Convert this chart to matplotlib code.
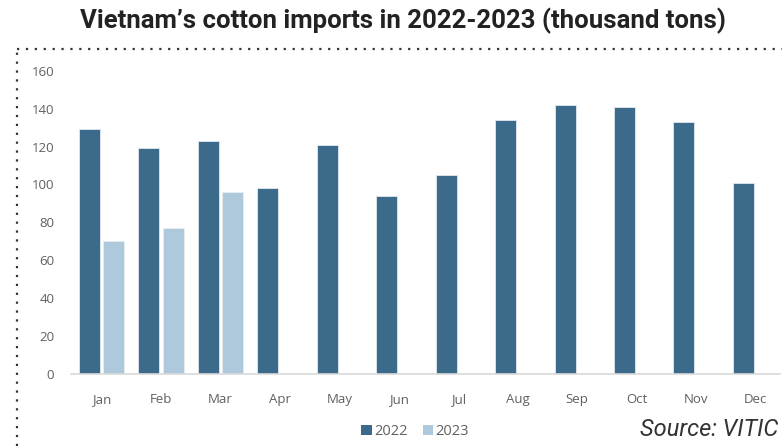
import numpy as np
import matplotlib
matplotlib.use('Agg')
import matplotlib.pyplot as plt
from matplotlib.lines import Line2D
from matplotlib.patches import Patch

MONTHS = ['Jan', 'Feb', 'Mar', 'Apr', 'May', 'Jun',
          'Jul', 'Aug', 'Sep', 'Oct', 'Nov', 'Dec']
IMPORTS_2022 = [129, 119, 123, 98, 121, 94, 105, 134, 142, 141, 133, 101]
IMPORTS_2023 = [70, 77, 96, np.nan, np.nan, np.nan,
                np.nan, np.nan, np.nan, np.nan, np.nan, np.nan]
Y_TICKS = [0, 20, 40, 60, 80, 100, 120, 140, 160]

COLOR_2022 = '#3b6a8b'
COLOR_2023 = '#aec9dc'
LABEL_GRAY = '#606060'

BAR_WIDTH = 0.353
OFFSET = 0.205


def main():
    fig = plt.figure(figsize=(7.82, 4.46), dpi=100)
    ax = fig.add_axes([0.0908, 0.1614, 0.9066, 0.680])

    x = np.arange(len(MONTHS))
    ax.bar(x - OFFSET, IMPORTS_2022, BAR_WIDTH, color=COLOR_2022,
           edgecolor='#d8e2ea', linewidth=0.7)
    ax.bar(x + OFFSET, IMPORTS_2023, BAR_WIDTH, color=COLOR_2023,
           edgecolor='#e4ecf2', linewidth=0.7)

    ax.set_xlim(-0.516, 11.41)
    ax.set_ylim(0, 160)
    ax.set_yticks(Y_TICKS)
    ax.set_xticks(x)
    ax.set_xticklabels(MONTHS)
    ax.tick_params(axis='both', length=0, labelsize=9.5, labelcolor=LABEL_GRAY)
    ax.tick_params(axis='x', pad=14)
    ax.tick_params(axis='y', pad=12)
    for lbl in ax.get_xticklabels() + ax.get_yticklabels():
        lbl.set_family('Open Sans')

    for side in ('top', 'right', 'left'):
        ax.spines[side].set_visible(False)
    ax.spines['bottom'].set_color('#d9d9d9')
    ax.spines['bottom'].set_linewidth(1.2)

    fig.text(0.515, 0.953, 'Vietnam\u2019s cotton imports in 2022-2023 (thousand tons)',
             ha='center', va='center', fontsize=18.5, fontweight='bold',
             family='Roboto', color='#222222')

    # dotted frame along the top and left edges
    fig.add_artist(Line2D([0.022, 1.0], [0.890, 0.890], transform=fig.transFigure,
                          color='#333333', linestyle=(0, (1, 3)), linewidth=1.6))
    fig.add_artist(Line2D([0.022, 0.022], [0.0, 0.890], transform=fig.transFigure,
                          color='#333333', linestyle=(0, (1, 3)), linewidth=1.6))

    handles = [Patch(facecolor=COLOR_2022, label='2022'),
               Patch(facecolor=COLOR_2023, label='2023')]
    leg = fig.legend(handles=handles, loc='center', bbox_to_anchor=(0.531, 0.032),
                     ncol=2, frameon=False, handlelength=0.7,
                     handleheight=0.7, handletextpad=0.2, columnspacing=1.0,
                     prop={'family': 'Open Sans', 'size': 10.5})
    for t in leg.get_texts():
        t.set_color(LABEL_GRAY)

    fig.text(0.995, 0.036, 'Source: VITIC', ha='right', va='center',
             fontsize=17, style='italic', family='Roboto', color='#333333')

    fig.savefig('out.png', dpi=100)


if __name__ == '__main__':
    main()
